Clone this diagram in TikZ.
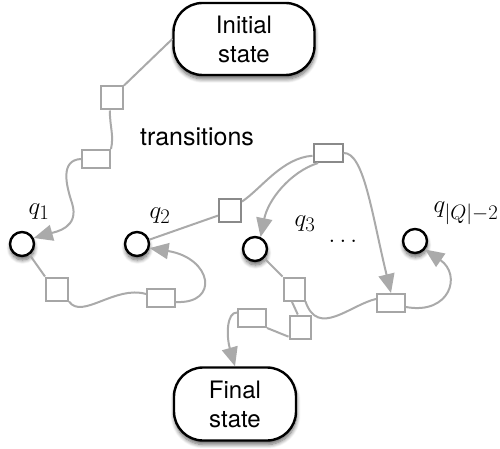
\documentclass[tikz,border=0pt]{standalone}
\usepackage[no-math]{fontspec}
\newfontfamily\heros{TeX Gyre Heros}
\usetikzlibrary{arrows.meta,shadows.blur}

\definecolor{linkgray}{HTML}{AAAAAA}
\definecolor{boxgray}{HTML}{A6A6A6}
\definecolor{darkbox}{HTML}{8A8A8A}

\tikzset{
  softshadow/.style={blur shadow={shadow xshift=0.5pt, shadow yshift=-4pt,
      shadow blur radius=4pt, shadow blur steps=8, shadow opacity=60}},
  endstate/.style={draw=black, line width=2.4pt, fill=white, rounded corners=29pt,
      align=center, inner sep=0pt, font=\heros\fontsize{24}{29}\selectfont, softshadow},
  place/.style={circle, draw=black, line width=2.4pt, fill=white,
      minimum size=24pt, inner sep=0pt, softshadow},
  tbox/.style={draw=boxgray, line width=2pt, fill=white, inner sep=0pt},
  sqbox/.style={tbox, minimum width=22pt, minimum height=23pt},
  widebox/.style={tbox, minimum width=28pt, minimum height=18pt},
  link/.style={draw=linkgray, line width=2pt},
  arr/.style={link, -{Triangle[length=19pt,width=16pt]}},
  qlabel/.style={inner sep=0pt, font=\fontsize{28}{32}\selectfont},
}

\begin{document}
\begin{tikzpicture}[x=1pt,y=-1pt]
\useasboundingbox (0,0) rectangle (500,449);

% start and end states
\node[endstate, minimum width=141pt, minimum height=72pt] (init) at (244,39) {Initial\\state};
\node[endstate, minimum width=122pt, minimum height=73pt] (final) at (235,404) {Final\\state};

% places
\node[place] (q1) at (22,244) {};
\node[place] (q2) at (137,244) {};
\node[place] (q3) at (255,249) {};
\node[place] (qn) at (415,241) {};

\node[qlabel] (lq1) at (39,212) {$q_1$};
\node[qlabel] (lq2) at (160,216) {$q_2$};
\node[qlabel] (lq3) at (305,224) {$q_3$};
\node[qlabel] (lqn) at (466,213) {$q_{|Q|-2}$};
\node[qlabel] (dots) at (343,241) {$\dots$};

\node[font=\heros\fontsize{25}{30}\selectfont, inner sep=0pt] (trans) at (197,137) {transitions};

% transitions
\node[sqbox] (b1) at (112,98) {};
\node[widebox] (b2) at (96,159) {};
\node[sqbox] (b3) at (57,289) {};
\node[widebox] (b4) at (161,298) {};
\node[sqbox, draw=darkbox] (b5) at (230,210) {};
\node[widebox, minimum width=29pt, draw=darkbox] (b6) at (328,153) {};
\node[sqbox, minimum width=21pt] (b7) at (294,289) {};
\node[widebox] (b8) at (391,303) {};
\node[sqbox, minimum width=21pt] (b9) at (300,327) {};
\node[widebox] (b10) at (252,318) {};

% arcs
\draw[link] (init.west) -- (b1.north east);
\draw[link] (b1.-100) .. controls (110,128) and (114,135) .. (b2.north east);
\draw[arr] (b2.west) .. controls (60,160) and (66,185) .. (72,203)
           .. controls (80,228) and (55,232) .. (q1.27);
\draw[link] (q1) -- (b3.north west);
\draw[link] (b3.south east) .. controls (82,320) and (115,285) .. (b4.165);
\draw[arr] (b4.-15) .. controls (220,304) and (212,258) .. (q2.-18);
\draw[link] (q2) -- (b5.205);
\draw[link] (b5.35) .. controls (262,188) and (282,158) .. (b6.190);
\draw[arr] (b6.-135) .. controls (290,172) and (268,200) .. (q3.65);
\draw[arr] (b6.east) .. controls (364,152) and (372,215) .. (b8.north);
\draw[link] (q3) -- (b7.north west);
\draw[link] (b7.south east) .. controls (318,338) and (350,305) .. (b8.165);
\draw[arr] (b8.-15) .. controls (450,315) and (462,275) .. (qn.-40);
\draw[link] (b7.-100) -- (b9.100);
\draw[link] (b10.south east) -- (b9.220);
\draw[arr] (b10.160) .. controls (227,312) and (226,335) .. (final.north);
\end{tikzpicture}
\end{document}
